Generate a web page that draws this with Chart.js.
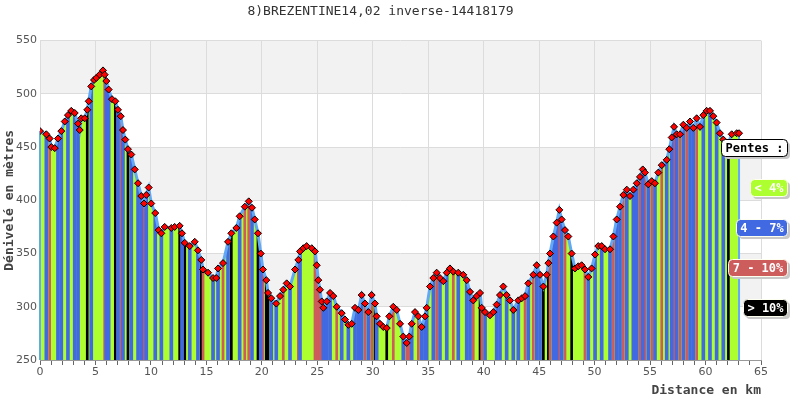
<!DOCTYPE html>
<html>
<head>
<meta charset="utf-8">
<script src="https://cdn.jsdelivr.net/npm/chart.js@4.4.0/dist/chart.umd.min.js"></script>
<style>
  html, body { margin: 0; padding: 0; background: #fff; }
</style>
</head>
<body>
<canvas id="profil" width="800" height="400"></canvas>
<script>
"use strict"

const titre = "8)BREZENTINE14,02 inverse-14418179";

const distances = [
    0.00, 0.57, 0.87, 1.02, 1.33, 1.62, 1.92, 2.23, 2.52, 2.82,
    3.13, 3.43, 3.58, 3.72, 4.03, 4.26, 4.39, 4.62, 4.87, 5.08,
    5.38, 5.68, 5.83, 5.98, 6.19, 6.49, 6.79, 7.03, 7.28, 7.48,
    7.69, 7.93, 8.23, 8.54, 8.84, 9.13, 9.38, 9.58, 9.80, 10.03,
    10.39, 10.70, 10.94, 11.24, 11.84, 12.14, 12.59, 12.80, 13.05, 13.50,
    13.95, 14.24, 14.54, 14.70, 15.15, 15.60, 15.89, 16.05, 16.50, 16.95,
    17.25, 17.70, 18.00, 18.46, 18.82, 19.11, 19.36, 19.65, 19.90, 20.10,
    20.40, 20.56, 20.85, 21.30, 21.64, 21.93, 22.24, 22.54, 22.99, 23.29,
    23.44, 23.74, 24.04, 24.50, 24.79, 24.95, 25.09, 25.24, 25.40, 25.54,
    25.85, 26.15, 26.44, 26.75, 27.20, 27.50, 27.80, 28.10, 28.40, 28.70,
    29.00, 29.30, 29.60, 29.90, 30.20, 30.35, 30.65, 30.95, 31.26, 31.49,
    31.85, 32.16, 32.46, 32.75, 33.06, 33.29, 33.51, 33.81, 34.11, 34.41,
    34.71, 34.86, 35.16, 35.46, 35.76, 36.06, 36.36, 36.67, 36.96, 37.26,
    37.71, 38.16, 38.47, 38.77, 39.06, 39.37, 39.67, 39.82, 40.12, 40.57,
    40.87, 41.17, 41.47, 41.77, 42.07, 42.37, 42.67, 43.12, 43.43, 43.73,
    44.02, 44.47, 44.78, 45.08, 45.38, 45.68, 45.83, 45.98, 46.28, 46.58,
    46.82, 47.03, 47.33, 47.63, 47.93, 48.23, 48.53, 48.83, 49.13, 49.43,
    49.73, 50.04, 50.33, 50.64, 50.94, 51.39, 51.69, 51.99, 52.29, 52.59,
    52.90, 53.19, 53.49, 53.80, 54.09, 54.34, 54.54, 54.84, 55.15, 55.44,
    55.74, 56.05, 56.50, 56.73, 56.95, 57.16, 57.40, 57.70, 58.00, 58.30,
    58.60, 58.90, 59.20, 59.50, 59.80, 60.10, 60.40, 60.70, 61.00, 61.30,
    61.60, 62.06, 62.36, 62.81, 63.02
];

const altitudes = [
    465, 462, 458, 450, 449, 458, 465, 474, 480, 484,
    482, 472, 466, 477, 477, 485, 493, 507, 513, 515,
    518, 522, 518, 512, 504, 495, 493, 485, 479, 466,
    457, 448, 443, 429, 416, 404, 397, 405, 412, 397,
    388, 372, 369, 375, 374, 375, 376, 369, 360, 357,
    361, 353, 344, 335, 332, 327, 327, 336, 341, 361,
    369, 374, 385, 394, 399, 393, 382, 369, 350, 335,
    325, 313, 308, 303, 310, 316, 322, 319, 335, 344,
    352, 355, 357, 355, 352, 339, 325, 316, 305, 299,
    305, 313, 310, 300, 294, 288, 283, 284, 299, 297,
    311, 303, 295, 311, 303, 291, 284, 281, 280, 291,
    300, 297, 284, 272, 266, 272, 284, 295, 291, 281,
    291, 299, 319, 327, 332, 327, 324, 332, 336, 333,
    332, 330, 325, 314, 306, 310, 313, 299, 295, 292,
    295, 302, 311, 319, 311, 306, 297, 306, 308, 310,
    322, 330, 339, 330, 319, 330, 341, 350, 366, 379,
    391, 382, 372, 366, 350, 336, 338, 339, 335, 328,
    336, 349, 357, 357, 354, 354, 366, 382, 394, 405,
    410, 404, 410, 416, 422, 429, 426, 415, 418, 416,
    426, 433, 438, 448, 459, 469, 462, 462, 471, 468,
    474, 468, 477, 469, 480, 484, 484, 479, 473, 463,
    457, 454, 462, 463, 463
];

// classe de pente relevée à chaque point (0: < 4%, 1: 4-7%, 2: 7-10%, 3: > 10%)
const pentes = [
    0, 1, 2, 0, 0, 1, 1, 0, 1, 0,
    1, 1, 0, 0, 0, 3, 0, 1, 0, 0,
    0, 0, 2, 1, 1, 0, 3, 1, 2, 1,
    0, 3, 1, 0, 1, 1, 2, 1, 0, 0,
    1, 0, 1, 0, 1, 0, 3, 1, 3, 1,
    0, 1, 3, 2, 0, 1, 0, 1, 2, 1,
    3, 0, 1, 2, 2, 1, 0, 3, 1, 2,
    3, 3, 1, 1, 0, 2, 0, 1, 0, 2,
    1, 0, 0, 0, 2, 2, 2, 2, 2, 1,
    1, 1, 0, 2, 1, 0, 1, 0, 1, 1,
    1, 2, 1, 2, 3, 1, 0, 0, 3, 0,
    2, 0, 0, 1, 2, 2, 1, 0, 2, 1,
    1, 1, 0, 1, 2, 1, 0, 1, 0, 2,
    1, 0, 1, 1, 2, 0, 3, 2, 1, 0,
    0, 1, 1, 0, 1, 0, 1, 1, 0, 2,
    1, 2, 1, 1, 3, 0, 3, 2, 1, 1,
    2, 1, 2, 0, 3, 0, 0, 0, 2, 1,
    0, 1, 0, 1, 0, 1, 2, 1, 1, 2,
    1, 0, 1, 1, 2, 1, 2, 1, 2, 1,
    0, 2, 1, 0, 1, 2, 1, 2, 1, 2,
    1, 1, 2, 0, 1, 0, 1, 0, 1, 0,
    1, 3, 0, 0, 0
];

const classesPente = ["< 4%", "4 - 7%", "7 - 10%", "> 10%"];
const couleursPente = ["#adff2f", "#4169e1", "#cd5c5c", "#000000"];

let points = distances.map((d, i) => ({ x: d, y: altitudes[i] }));

// une série de traits verticaux par classe de pente
let traits = [1, 2, 3].map(k => ({
    type: "bar",
    data: points.filter((p, i) => pentes[i] === k),
    backgroundColor: couleursPente[k],
    barThickness: k === 1 ? 3 : 2,
    grouped: false,
    order: 2
}));

// bandes grises alternées derrière le graphique
const bandes = {
    id: "bandes",
    beforeDraw(chart) {
        let ctx = chart.ctx;
        let zone = chart.chartArea;
        let y = chart.scales.y;
        ctx.save();
        ctx.fillStyle = "#f2f2f2";
        for (let v = y.min; v < y.max; v += 50) {
            if (((v - y.min) / 50) % 2 === 1) {
                let haut = y.getPixelForValue(v + 50);
                let bas = y.getPixelForValue(v);
                ctx.fillRect(zone.left, haut, zone.right - zone.left, bas - haut);
            }
        }
        ctx.restore();
    }
};

// bords verticaux du profil, au début et à la fin du parcours
const bords = {
    id: "bords",
    beforeDatasetsDraw(chart) {
        let ctx = chart.ctx;
        let x = chart.scales.x;
        let y = chart.scales.y;
        ctx.save();
        ctx.strokeStyle = "#62a8f5";
        ctx.lineWidth = 2;
        [0, distances.length - 1].forEach(i => {
            let px = x.getPixelForValue(distances[i]);
            ctx.beginPath();
            ctx.moveTo(px, y.getPixelForValue(altitudes[i]));
            ctx.lineTo(px, y.getPixelForValue(y.min));
            ctx.stroke();
        });
        ctx.restore();
    }
};

function boite(ctx, texte, droite, haut, fond, bord, couleurTexte) {
    ctx.font = "bold 12px 'DejaVu Sans Mono'";
    let largeur = Math.round(ctx.measureText(texte).width) + 8;
    let hauteur = 17;
    let gauche = droite - largeur;
    ctx.fillStyle = "#c8c8c8";
    ctx.beginPath();
    ctx.roundRect(gauche + 3, haut + 3, largeur, hauteur, 4);
    ctx.fill();
    ctx.fillStyle = fond;
    ctx.strokeStyle = bord;
    ctx.lineWidth = 1;
    ctx.beginPath();
    ctx.roundRect(gauche + 0.5, haut + 0.5, largeur, hauteur, 4);
    ctx.fill();
    ctx.stroke();
    ctx.fillStyle = couleurTexte;
    ctx.textAlign = "center";
    ctx.textBaseline = "middle";
    ctx.fillText(texte, gauche + largeur / 2 + 0.5, haut + hauteur / 2 + 1);
}

const legende = {
    id: "legende",
    afterDraw(chart) {
        let ctx = chart.ctx;
        ctx.save();
        boite(ctx, "Pentes :", 787, 139, "#ffffff", "#000000", "#000000");
        classesPente.forEach((c, i) => {
            boite(ctx, c, 787, 179 + i * 40, couleursPente[i], "#fffff0", "#ffffff");
        });
        ctx.restore();
    }
};

new Chart(document.getElementById("profil").getContext("2d"), {
    type: "line",
    data: {
        datasets: [{
            data: points,
            borderColor: "#62a8f5",
            borderWidth: 3,
            backgroundColor: couleursPente[0],
            fill: "start",
            tension: 0,
            pointStyle: "rectRot",
            pointRadius: 3.5,
            pointBackgroundColor: "#ff0000",
            pointBorderColor: "#000000",
            pointBorderWidth: 1,
            order: 1
        }, ...traits]
    },
    options: {
        responsive: false,
        animation: false,
        events: [],
        layout: { padding: { left: 0, right: 39, top: 0, bottom: 0 } },
        plugins: {
            legend: { display: false },
            tooltip: { enabled: false },
            filler: { drawTime: "beforeDatasetsDraw" },
            title: {
                display: true,
                text: titre,
                color: "#333",
                font: { family: "'DejaVu Sans Mono'", size: 13, weight: "normal" },
                padding: { top: 4, bottom: 21 }
            }
        },
        scales: {
            x: {
                type: "linear",
                min: 0,
                max: 65,
                offset: false,
                afterFit: s => { s.height = 40; },
                ticks: {
                    stepSize: 1,
                    autoSkip: false,
                    maxRotation: 0,
                    padding: 1,
                    color: "#555",
                    font: { family: "'DejaVu Sans'", size: 11 },
                    callback: v => (v % 5 === 0 ? v : "")
                },
                grid: {
                    offset: false,
                    color: c => (c.tick && c.tick.value % 5 === 0 ? "#dcdcdc" : "rgba(0,0,0,0)"),
                    tickColor: "#666",
                    tickLength: 5
                },
                border: { display: true, color: "#999" },
                title: {
                    display: true,
                    text: "Distance en km",
                    align: "end",
                    color: "#444",
                    font: { family: "'DejaVu Sans Mono'", size: 13, weight: "bold" },
                    padding: { top: 0, bottom: 2 }
                }
            },
            y: {
                min: 250,
                max: 550,
                beginAtZero: false,
                afterFit: s => { s.width = 40; },
                ticks: {
                    stepSize: 50,
                    padding: 3,
                    color: "#555",
                    font: { family: "'DejaVu Sans'", size: 11 }
                },
                grid: { color: "#dcdcdc", drawTicks: false },
                border: { display: false },
                title: {
                    display: true,
                    text: "Dénivelé en mètres",
                    color: "#444",
                    font: { family: "'DejaVu Sans Mono'", size: 13, weight: "bold" },
                    padding: { top: 2, bottom: 0 }
                }
            }
        }
    },
    plugins: [bandes, bords, legende]
});
</script>
</body>
</html>
